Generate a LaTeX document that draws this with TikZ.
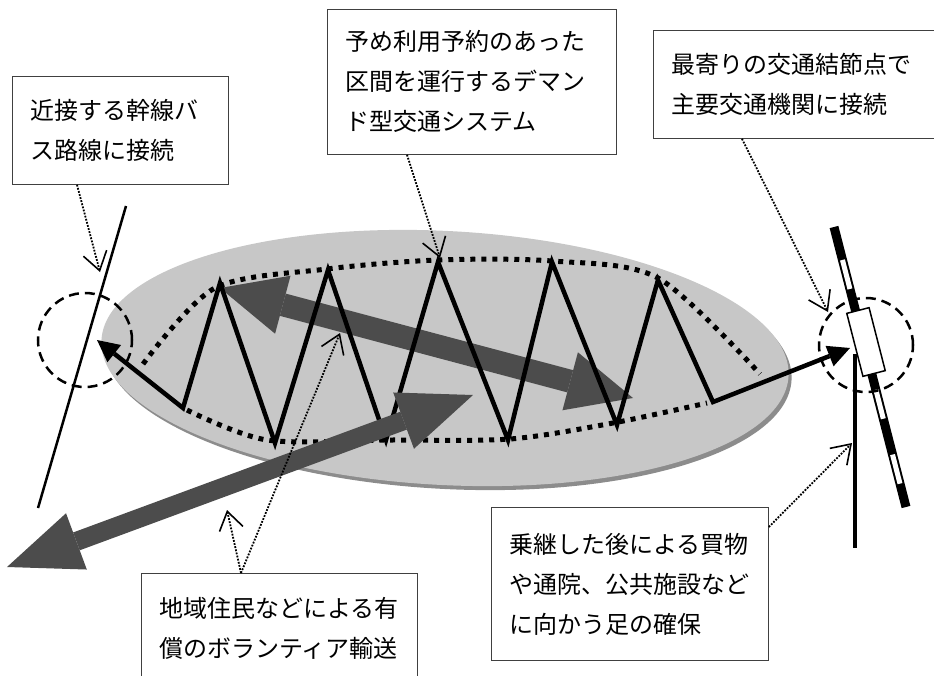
\documentclass[tikz,border=0pt]{standalone}
\usepackage{fontspec}
\newfontfamily\jpfont{Noto Sans CJK JP}
\usetikzlibrary{arrows.meta}

\begin{document}
\begin{tikzpicture}[x=1pt, y=-1pt,
	note/.style={draw=black!75, line width=0.8pt, fill=white, anchor=north west, align=left, inner xsep=18pt, inner ysep=0pt, font=\jpfont\fontsize{24pt}{40pt}\selectfont},
	leader/.style={dash pattern=on 1.8pt off 1.4pt, line width=1.8pt, -{Straight Barb[length=18pt, width=24pt, line width=1.6pt]}},
	zigzag/.style={line width=4.5pt, {Triangle[length=22pt, width=22pt, line width=0pt]}-{Triangle[length=22pt, width=22pt, line width=0pt]}},
	area/.style={line width=5pt, dash pattern=on 5pt off 6pt},
	wide/.style={black!70, {Triangle[length=#1, width=60pt, line width=0pt]}-{Triangle[length=#1, width=60pt, line width=0pt]}},
	zone/.style={circle, draw, dash pattern=on 10pt off 6pt, line width=2.5pt, minimum size=94pt, inner sep=0pt}
	]
	
	\useasboundingbox (0,0) rectangle (934,675);
	
	% the service area
	\fill[black!45, rotate around={-3:(448,362)}] (448,362) ellipse (344 and 127);
	\fill[black!22, rotate around={-3:(445,358)}] (445,358) ellipse (344 and 127);
	
	\draw[area] plot[smooth, tension=0.5] coordinates {(143,364) (215,288) (327,269) (438,260) (552,261) (658,278) (760,374)};
	\draw[area] plot[smooth, tension=0.5] coordinates {(187,410) (267,440) (390,440) (510,439) (613,423) (707,403)};
	
	\coordinate (w1a) at (220,288);
	\coordinate (w1b) at (633,398);
	\draw[wide=65pt, line width=23pt] (w1a) -- (w1b);
	
	% the zigzag route
	\coordinate (lt) at (97,340);
	\coordinate (v0) at (183,408);
	\coordinate (p1) at (220,283);
	\coordinate (v1) at (275,443);
	\coordinate (p2) at (328,270);
	\coordinate (v2) at (386,440);
	\coordinate (p3) at (438,262);
	\coordinate (v3) at (508,440);
	\coordinate (p4) at (552,262);
	\coordinate (v4) at (617,425);
	\coordinate (p5) at (658,280);
	\coordinate (v5) at (713,402);
	\coordinate (rt) at (850,348);
	\draw[zigzag] (lt) -- (v0) -- (p1) -- (v1) -- (p2) -- (v2) -- (p3) -- (v3) -- (p4) -- (v4) -- (p5) -- (v5) -- (rt);
	
	\coordinate (w2a) at (7,567);
	\coordinate (w2b) at (473,395);
	\draw[wide=74pt, line width=19pt] (w2a) -- (w2b);
	
	% trunk bus line
	\coordinate (busT) at (126,206);
	\coordinate (busB) at (38,508);
	\draw[line width=2.5pt] (busT) -- (busB);
	\node[zone] (leftstop) at (85,340) {};
	
	% railway and station
	\coordinate (railT) at (834,227);
	\coordinate (railB) at (906,507);
	\draw[line width=9pt] (railT) -- (railB);
	\draw[white, line width=5pt, dash pattern=on 30pt off 37pt, dash phase=33pt] (railT) -- (railB);
	\node[draw, fill=white, line width=1.5pt, minimum width=23pt, minimum height=65pt, inner sep=0pt, rotate=14.4] (station) at (866,342) {};
	\coordinate (feedT) at (855,354);
	\coordinate (feedB) at (855,548);
	\draw[line width=4.5pt] (feedT) -- (feedB);
	\node[zone] (rightstop) at (866,345) {};
	
	% notes
	\node[note, text width=180pt, minimum height=108pt] (trunk) at (12,76) {近接する幹線バ\\ス路線に接続};
	\node[note, text width=253pt, minimum height=145pt] (demand) at (327,9) {予め利用予約のあった\\区間を運行するデマン\\ド型交通システム};
	\node[note, text width=246pt, minimum height=108pt] (hub) at (653,30) {最寄りの交通結節点で\\主要交通機関に接続};
	\node[note, text width=240pt, minimum height=110pt] (volunteer) at (141,573) {地域住民などによる有\\償のボランティア輸送};
	\node[note, text width=241pt, minimum height=153pt] (transfer) at (491,507) {乗継した後による買物\\や通院、公共施設など\\に向かう足の確保};
	
	\coordinate (t1) at (100,272);
	\coordinate (t2) at (440,258);
	\coordinate (t3) at (828,312);
	\coordinate (t4) at (227,510);
	\coordinate (t5) at (340,333);
	\coordinate (t6) at (852,443);
	
	\draw[leader] ([xshift=65pt]trunk.south west) -- (t1);
	\draw[leader] ([xshift=80pt]demand.south west) -- (t2);
	\draw[leader] ([xshift=89pt]hub.south west) -- (t3);
	\draw[leader] ([xshift=100pt]volunteer.north west) -- (t4);
	\draw[leader] ([xshift=100pt]volunteer.north west) -- (t5);
	\draw[leader] ([yshift=-20pt]transfer.north east) -- (t6);
	
\end{tikzpicture}
\end{document}
